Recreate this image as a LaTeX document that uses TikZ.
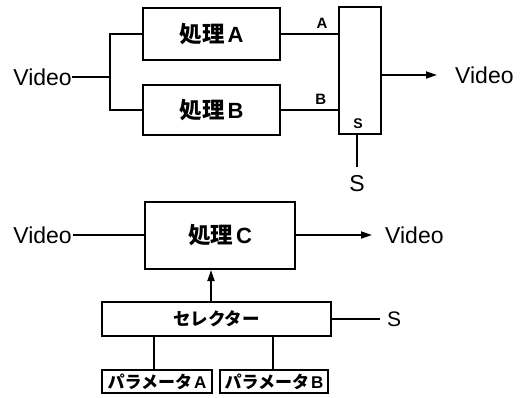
\documentclass[tikz,border=0pt]{standalone}
\usepackage{fontspec}
\setmainfont{Liberation Sans}
\newfontfamily\jp{Noto Sans CJK JP}
\usetikzlibrary{arrows.meta}
\tikzset{
  blk/.style={draw, line width=2pt, inner sep=0pt, minimum width=#1},
  ln/.style={line width=1.8pt},
  arr/.style={line width=1.8pt, -{Triangle[length=11pt,width=7pt]}},
  lbl/.style={inner sep=0pt, font=\fontsize{23}{23}\selectfont},
  small/.style={inner sep=0pt, font=\bfseries\fontsize{15}{15}\selectfont},
}
\newcommand{\jpbox}[2]{{\jp\bfseries\fontsize{22.5}{22.5}\selectfont #1}\hspace{3pt}{\bfseries\fontsize{22}{22}\selectfont #2}}
\begin{document}
\begin{tikzpicture}[x=1pt,y=-1pt]
\useasboundingbox (0,0) rectangle (524,397);
% ---------- top ----------
\node[blk=137pt, minimum height=52pt] (boxA) at (211.5,34) {\jpbox{処理}{A}};
\node[blk=137pt, minimum height=50pt] (boxB) at (211.5,110) {\jpbox{処理}{B}};
\node[blk=42pt, minimum height=127pt] (mux) at (360,70.5) {};
\node[lbl, anchor=east] (vin1) at (72,77) {Video};
\coordinate (j) at (110,77);
\draw[ln] (vin1.east) -- (j);
\draw[ln] (boxA.west) -| (j) |- (boxB.west);
\draw[ln] (boxA.east) -- (boxA.east -| mux.west) node[small, pos=0.72, above=5pt] (la) {A};
\draw[ln] (boxB.east) -- (boxB.east -| mux.west) node[small, pos=0.70, above=5pt] (lb) {B};
\node[lbl, anchor=west] (vout1) at (455,75) {Video};
\draw[arr] (mux.east |- vout1) -- ([xshift=-18pt]vout1.west);
\node[inner sep=0pt, font=\bfseries\fontsize{14}{14}\selectfont] (ms) at (358,124) {S};
\node[lbl, anchor=north] (sbot) at (357,175) {S};
\draw[ln] (mux.south -| sbot) -- ([yshift=8pt]sbot.north);
% ---------- bottom ----------
\node[blk=150pt, minimum height=67pt] (boxC) at (220,235.5) {\jpbox{処理}{C}};
\node[lbl, anchor=east] (vin2) at (72,235) {Video};
\draw[ln] ([xshift=1pt]vin2.east) -- (boxC.west |- vin2);
\node[lbl, anchor=west] (vout2) at (385,235) {Video};
\draw[arr] (boxC.east |- vout2) -- ([xshift=-13pt]vout2.west);
\node[blk=229pt, minimum height=34pt] (sel) at (216.5,319) {{\jp\bfseries\fontsize{17.5}{17.5}\selectfont セレクター}};
\draw[arr] ([xshift=-5.5pt]sel.north) -- ([xshift=-5.5pt]sel.north |- boxC.south);
\node[lbl, anchor=west, font=\fontsize{21}{21}\selectfont] (ssel) at (387,319) {S};
\draw[ln] (sel.east) -- ([xshift=-7pt]ssel.west);
\node[blk=110pt, minimum height=23pt] (pa) at (157,381.5) {{\jp\bfseries\fontsize{17}{17}\selectfont パラメータ}\hspace{2pt}{\fontsize{17}{17}\selectfont\bfseries A}};
\node[blk=108pt, minimum height=23pt] (pb) at (274,381.5) {{\jp\bfseries\fontsize{17}{17}\selectfont パラメータ}\hspace{2pt}{\fontsize{17}{17}\selectfont\bfseries B}};
\draw[ln] ([xshift=-3pt]pa.north) -- ([xshift=-3pt]pa.north |- sel.south);
\draw[ln] ([xshift=-1pt]pb.north) -- ([xshift=-1pt]pb.north |- sel.south);
\end{tikzpicture}
\end{document}
